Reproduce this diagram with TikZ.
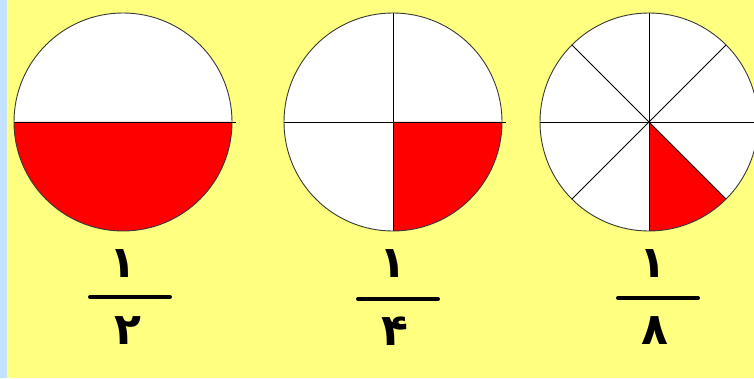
\documentclass[tikz,border=0pt]{standalone}
\usepackage{fontspec}
\newfontfamily\arabicfont[Script=Arabic]{DejaVu Sans}
\TeXXeTstate=1
\usetikzlibrary{positioning}
\definecolor{PaleYellow}{HTML}{FFFF80}
\definecolor{PaleBlue}{HTML}{C4E2FF}
\definecolor{PieRed}{HTML}{FF0000}
\definecolor{RimGray}{HTML}{383838}
\tikzset{
  rim/.style={draw=RimGray,line width=0.9pt},
  cut/.style={draw=black,line width=0.8pt},
  digit/.style={font=\arabicfont\bfseries\fontsize{44}{44}\selectfont,inner sep=0pt},
  bar/.style={line width=4pt,line cap=round}
}

\begin{document}
\begin{tikzpicture}[x=1pt,y=1pt]
  \fill[PaleYellow] (0,0) rectangle (754,378);
  \fill[PaleBlue] (0,0) rectangle (7,378);
  \useasboundingbox (0,0) rectangle (754,378);
  % one half
  \coordinate (half) at (123,256);
  \fill[white] (half) circle[radius=109];
  \fill[PieRed] (half) ++(180:109) arc[start angle=180,end angle=360,radius=109] -- cycle;
  \draw[cut] (half) ++(180:109) -- ++(222,0);
  \draw[rim] (half) circle[radius=109];
  % one quarter
  \coordinate (quarter) at (393,256);
  \fill[white] (quarter) circle[radius=109];
  \fill[PieRed] (quarter) -- ++(270:109) arc[start angle=270,end angle=360,radius=109] -- cycle;
  \draw[cut] (quarter) ++(180:109) -- ++(222,0);
  \draw[cut] (quarter) ++(90:109) -- ++(0,-218);
  \draw[rim] (quarter) circle[radius=109];
  % one eighth
  \coordinate (eighth) at (649,256);
  \fill[white] (eighth) circle[radius=109];
  \fill[PieRed] (eighth) -- ++(270:109) arc[start angle=270,end angle=315,radius=109] -- cycle;
  \foreach \a in {0,45,90,135}
    \draw[cut] (eighth) ++(\a:109) -- ++(\a+180:218);
  \draw[rim] (eighth) circle[radius=109];
  % fractions
  \node[digit] (num1) at (123,114) {\beginR ۱\endR};
  \node[digit] (den1) at (128,47) {\beginR ۲\endR};
  \draw[bar] (90,81) -- (170,81);
  \node[digit] (num2) at (393,114) {\beginR ۱\endR};
  \node[digit] (den2) at (395,47) {\beginR ۴\endR};
  \draw[bar] (358,79) -- (438,79);
  \node[digit] (num3) at (653,114) {\beginR ۱\endR};
  \node[digit] (den3) at (655,47) {\beginR ۸\endR};
  \draw[bar] (618,80) -- (698,80);
\end{tikzpicture}
\end{document}
